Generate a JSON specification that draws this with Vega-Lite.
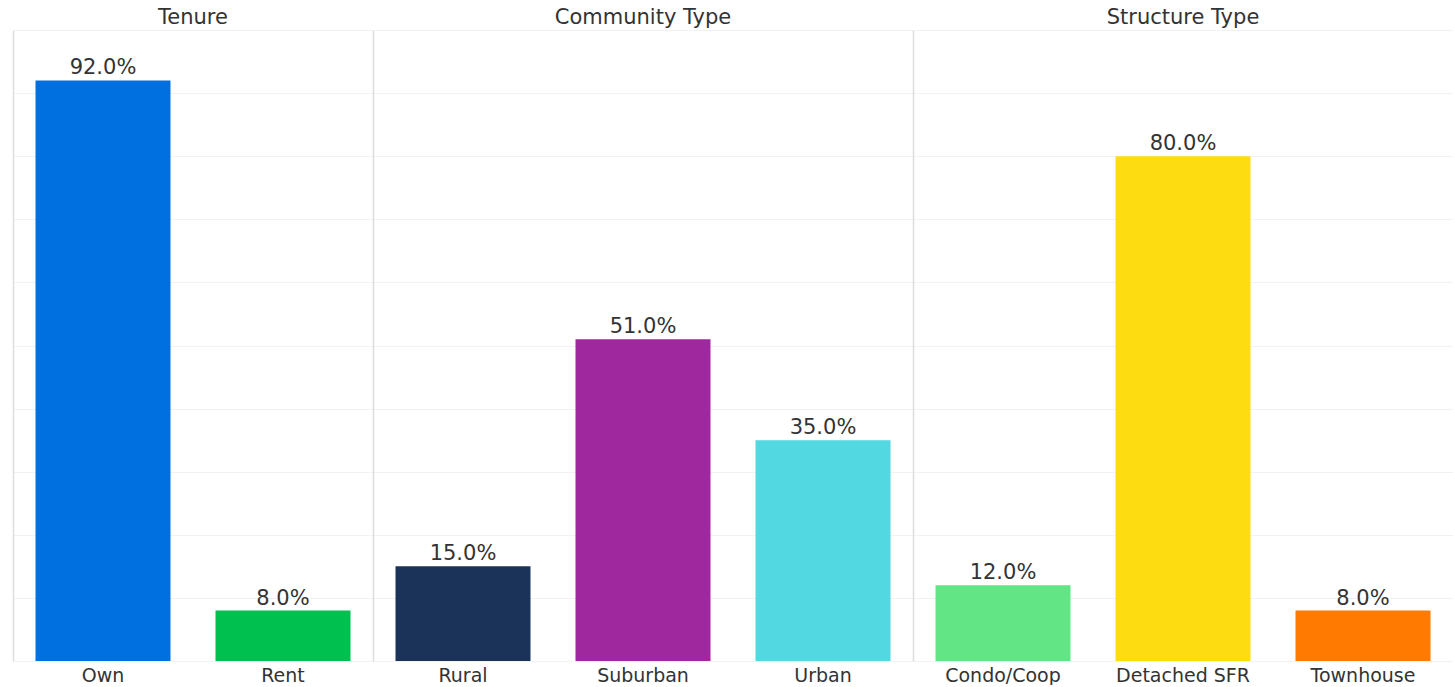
{
  "$schema": "https://vega.github.io/schema/vega-lite/v6.json",
  "padding": {"left": 13, "top": 7, "right": 0, "bottom": 0},
  "background": "white",
  "data": {"values": [
    {"group": "Tenure", "category": "Own", "share": 0.92},
    {"group": "Tenure", "category": "Rent", "share": 0.08},
    {"group": "Community Type", "category": "Rural", "share": 0.15},
    {"group": "Community Type", "category": "Suburban", "share": 0.51},
    {"group": "Community Type", "category": "Urban", "share": 0.35},
    {"group": "Structure Type", "category": "Condo/Coop", "share": 0.12},
    {"group": "Structure Type", "category": "Detached SFR", "share": 0.80},
    {"group": "Structure Type", "category": "Townhouse", "share": 0.08}
  ]},
  "facet": {
    "column": {
      "field": "group",
      "type": "nominal",
      "sort": ["Tenure", "Community Type", "Structure Type"],
      "title": null,
      "header": {
        "labelFont": "DejaVu Sans",
        "labelFontSize": 21,
        "labelColor": "#333333",
        "labelPadding": 2
      }
    }
  },
  "spacing": 0,
  "resolve": {"scale": {"x": "independent"}, "axis": {"y": "independent"}},
  "spec": {
    "width": {"step": 180},
    "height": 631,
    "encoding": {
      "x": {
        "field": "category",
        "type": "nominal",
        "sort": null,
        "scale": {"paddingInner": 0.25, "paddingOuter": 0.125},
        "axis": {
          "title": null,
          "labelAngle": 0,
          "ticks": false,
          "domain": false,
          "labelFont": "DejaVu Sans",
          "labelFontSize": 19,
          "labelColor": "#333333",
          "labelPadding": 5
        }
      },
      "y": {
        "field": "share",
        "type": "quantitative",
        "scale": {"domain": [0, 1], "nice": false},
        "axis": {
          "title": null,
          "labels": false,
          "ticks": false,
          "values": [0, 0.1, 0.2, 0.3, 0.4, 0.5, 0.6, 0.7, 0.8, 0.9, 1.0],
          "domainColor": "#dddddd",
          "domainWidth": 1.5,
          "gridColor": "#f2f2f2",
          "gridWidth": 1
        }
      }
    },
    "layer": [
      {
        "mark": {"type": "bar"},
        "encoding": {
          "color": {
            "field": "category",
            "type": "nominal",
            "legend": null,
            "scale": {
              "domain": ["Own", "Rent", "Rural", "Suburban", "Urban", "Condo/Coop", "Detached SFR", "Townhouse"],
              "range": ["#0070E0", "#00C050", "#1B3358", "#A0289F", "#52D8E0", "#62E585", "#FDDC12", "#FF7A00"]
            }
          }
        }
      },
      {
        "mark": {"type": "text", "dy": -6, "baseline": "alphabetic", "font": "DejaVu Sans", "fontSize": 21, "color": "#333333"},
        "encoding": {
          "text": {"field": "share", "type": "quantitative", "format": ".1%"}
        }
      }
    ]
  },
  "config": {
    "view": {"stroke": null}
  }
}
